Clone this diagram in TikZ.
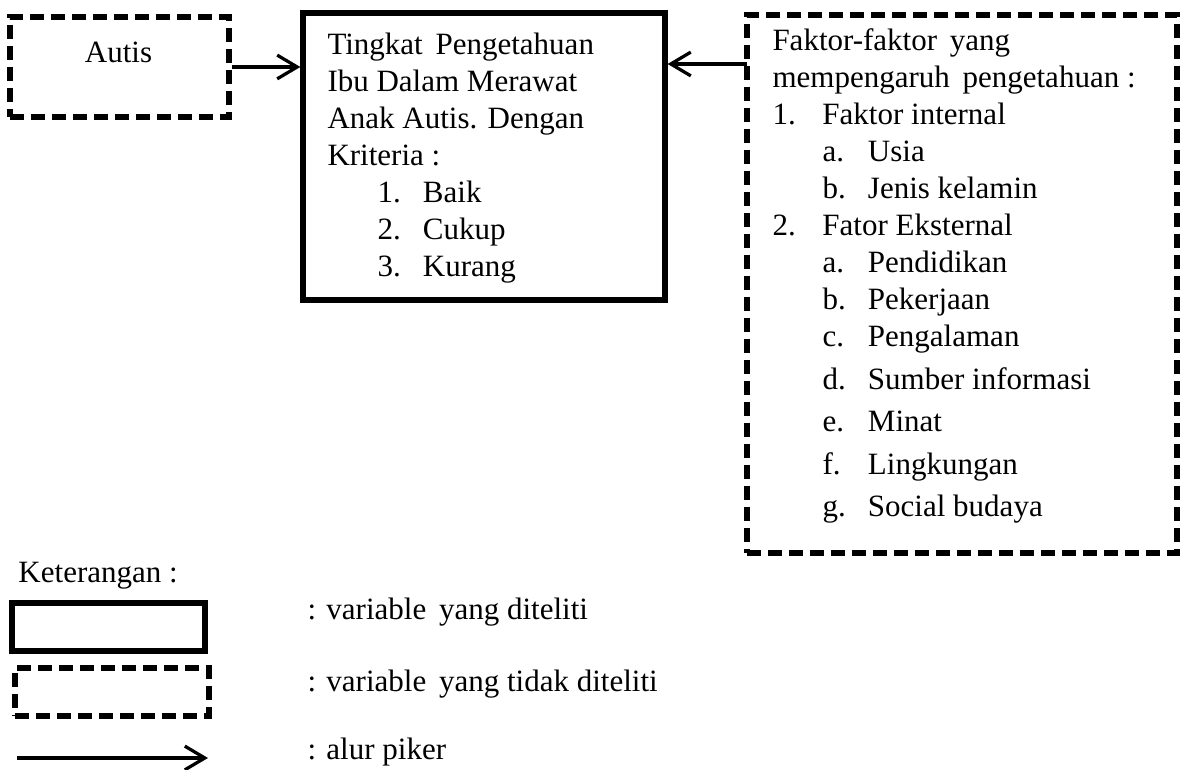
\documentclass[tikz,border=0pt]{standalone}
\usepackage{fontspec}
\setmainfont{Liberation Serif}
\usetikzlibrary{arrows.meta}

\tikzset{
  kotak/.style={draw, line width=2.1pt, inner sep=0pt},
  kotakputus/.style={kotak, dash pattern=on 5.6pt off 2.8pt},
  alur/.style={line width=1.3pt, -{Straight Barb[length=8pt,width=9.5pt,line width=1.3pt]}},
  teks/.style={inner sep=0pt, align=left, font=\fontsize{12.4pt}{14.8pt}\selectfont},
}
\newcommand{\nomor}[1]{\makebox[20pt][l]{#1}}
\newcommand{\subnomor}[1]{\hspace*{20pt}\makebox[18.2pt][l]{#1}}
\newcommand{\jarak}{\ \hspace{2pt}}

\begin{document}
\begin{tikzpicture}[x=0.4pt, y=-0.4pt]
	\useasboundingbox (0,0) rectangle (1181,770);

	% Boxes
	\node[kotakputus, minimum width=87.6pt, minimum height=40pt] (autis) at (119.5,67) {};
	\node[kotak, minimum width=144.8pt, minimum height=114.8pt] (tingkat) at (484,156.5) {};
	\node[kotakputus, minimum width=172pt, minimum height=215.2pt] (faktor) at (962,284) {};

	% Box texts (placed by the baseline of their last line)
	\node[teks, anchor=base] (autistxt) at (118.5,63) {Autis};
	\node[teks, anchor=base west] (tingkattxt) at (327,277) {Tingkat\jarak Pengetahuan\\
		Ibu Dalam Merawat\\
		Anak Autis. Dengan\\
		Kriteria :\\
		\subnomor{1.}Baik\\
		\subnomor{2.}Cukup\\
		\subnomor{3.}Kurang};
	\node[teks, anchor=base west] (faktortxt) at (772,517) {Faktor-faktor\jarak yang\\
		mempengaruh\jarak pengetahuan :\\
		\nomor{1.}Faktor internal\\
		\subnomor{a.}Usia\\
		\subnomor{b.}Jenis kelamin\\
		\nomor{2.}Fator Eksternal\\
		\subnomor{a.}Pendidikan\\
		\subnomor{b.}Pekerjaan\\
		\subnomor{c.}Pengalaman\\[2.2pt]
		\subnomor{d.}Sumber informasi\\[2.2pt]
		\subnomor{e.}Minat\\[2.2pt]
		\subnomor{f.}Lingkungan\\[2.2pt]
		\subnomor{g.}Social budaya};

	% Arrows
	\coordinate (fk) at (747,64);
	\draw[alur] (autis.east) -- (autis.east -| tingkat.west);
	\draw[alur] (fk) -- (fk -| tingkat.east);

	% Legend
	\node[teks, anchor=base west] (ket) at (18,583) {Keterangan :};
	\node[kotak, minimum width=77.2pt, minimum height=19.2pt] (ketkotak) at (108.5,627) {};
	\node[kotakputus, minimum width=77.6pt, minimum height=19.2pt] (ketputus) at (112,692) {};
	\coordinate (alur0) at (17,758);
	\coordinate (alur1) at (208,758);
	\draw[alur] (alur0) -- (alur1);
	\node[teks, anchor=base west] (ketditeliti) at (307,620) {: variable\jarak yang diteliti};
	\node[teks, anchor=base west] (kettidak) at (307,692) {: variable\jarak yang tidak diteliti};
	\node[teks, anchor=base west] (ketalur) at (307,760) {: alur piker};
\end{tikzpicture}
\end{document}
